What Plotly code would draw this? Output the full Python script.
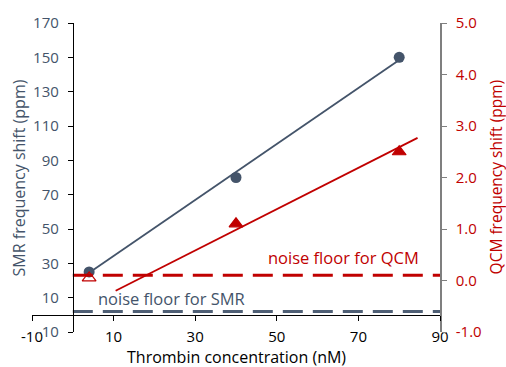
import plotly.graph_objects as go

# ---- data ----
conc = [4, 40, 80]                      # Thrombin concentration (nM)
smr_shift = [25, 80, 150]               # SMR frequency shift (ppm)
qcm_shift = [0.05, 1.1, 2.5]            # QCM frequency shift (ppm)
qcm_open = [True, False, False]         # first QCM point is below noise floor (open marker)
smr_fit_x = [4, 80]
smr_fit_y = [24.5, 148.5]
qcm_fit_x = [10.5, 84.5]
qcm_fit_y = [-0.2, 2.77]
noise_x = [0, 90]
smr_noise = 2.0
qcm_noise = 0.1
x_ticks = [-10, 10, 30, 50, 70, 90]
x_tick_text = ["-10", "10", "30", "50", "70", "90"]
smr_ticks = [-10, 10, 30, 50, 70, 90, 110, 130, 150, 170]
smr_tick_text = ["-10", "10", "30", "50", "70", "90", "110", "130", "150", "170"]
qcm_ticks = [-1, 0, 1, 2, 3, 4, 5]
qcm_tick_text = ["-1.0", "0.0", "1.0", "2.0", "3.0", "4.0", "5.0"]

SLATE = "#44546A"
RED = "#C00000"
FONT = "Open Sans"

fig = go.Figure()

# noise floors
fig.add_trace(go.Scatter(x=noise_x, y=[smr_noise, smr_noise], mode="lines",
                         line=dict(color="#4f5f75", width=3, dash="20px,10px"),
                         showlegend=False, hoverinfo="skip"))
fig.add_trace(go.Scatter(x=noise_x, y=[qcm_noise, qcm_noise], mode="lines", yaxis="y2",
                         line=dict(color=RED, width=3, dash="20px,10px"),
                         showlegend=False, hoverinfo="skip"))

# trend lines
fig.add_trace(go.Scatter(x=smr_fit_x, y=smr_fit_y, mode="lines",
                         line=dict(color=SLATE, width=1.8), showlegend=False))
fig.add_trace(go.Scatter(x=qcm_fit_x, y=qcm_fit_y, mode="lines", yaxis="y2",
                         line=dict(color=RED, width=1.8), showlegend=False))

# markers
fig.add_trace(go.Scatter(x=conc, y=smr_shift, mode="markers",
                         marker=dict(symbol="circle", size=11, color=SLATE),
                         showlegend=False))
fig.add_trace(go.Scatter(x=conc, y=qcm_shift, mode="markers", yaxis="y2",
                         marker=dict(symbol=["triangle-up-open" if o else "triangle-up" for o in qcm_open],
                                     size=12, color=RED, line=dict(color=RED, width=1.2)),
                         showlegend=False))

fig.update_layout(
    width=506, height=367,
    margin=dict(l=32, r=66, t=18, b=35),
    paper_bgcolor="white", plot_bgcolor="white",
    font=dict(family=FONT, size=15, color="black"),
    xaxis=dict(range=[-10, 90], domain=[0, 1], anchor="free", position=10 / 180,
               showline=True, linecolor="black", linewidth=1,
               ticks="outside", ticklen=5, tickcolor="black",
               tickvals=x_ticks, ticktext=x_tick_text,
               tickfont=dict(size=15, color="black"),
               ticklabelstandoff=3,
               showgrid=False, zeroline=False),
    yaxis=dict(range=[-10, 170], anchor="free", position=0.1,
               showline=True, linecolor="black", linewidth=1,
               ticks="outside", ticklen=5, tickcolor="black",
               tickvals=smr_ticks, ticktext=smr_tick_text,
               tickfont=dict(size=15, color=SLATE),
               ticklabelstandoff=6,
               showgrid=False, zeroline=False),
    yaxis2=dict(range=[-1, 5], overlaying="y", side="right", anchor="x",
                showline=True, linecolor="#7f7f7f", linewidth=1.5,
                ticks="outside", ticklen=5, tickcolor="#7f7f7f",
                tickvals=qcm_ticks, ticktext=qcm_tick_text,
                tickfont=dict(size=15, color=RED),
                ticklabelstandoff=6,
                showgrid=False, zeroline=False),
    annotations=[
        dict(text="Thrombin concentration (nM)", xref="paper", yref="paper",
             x=0.5, y=-0.08, xanchor="center", yanchor="middle", showarrow=False,
             font=dict(size=16, color="black")),
        dict(text="SMR frequency shift (ppm)", xref="paper", yref="paper",
             x=-0.032, y=0.5, xanchor="center", yanchor="middle", textangle=-90,
             showarrow=False, font=dict(size=16, color=SLATE)),
        dict(text="QCM frequency shift (ppm)", xref="paper", yref="paper",
             x=1.137, y=0.5, xanchor="center", yanchor="middle", textangle=-90,
             showarrow=False, font=dict(size=15.5, color=RED)),
        dict(text="noise floor for QCM", xref="x", yref="y2",
             x=66.4, y=0.45, xanchor="center", yanchor="middle", showarrow=False,
             font=dict(size=16.5, color=RED)),
        dict(text="noise floor for SMR", xref="x", yref="y",
             x=24.2, y=9.5, xanchor="center", yanchor="middle", showarrow=False,
             font=dict(size=16.5, color=SLATE)),
    ],
)

fig.write_html("out.html", config={"displayModeBar": False},
               post_script="document.body.style.margin='0';document.body.style.overflow='hidden';")
